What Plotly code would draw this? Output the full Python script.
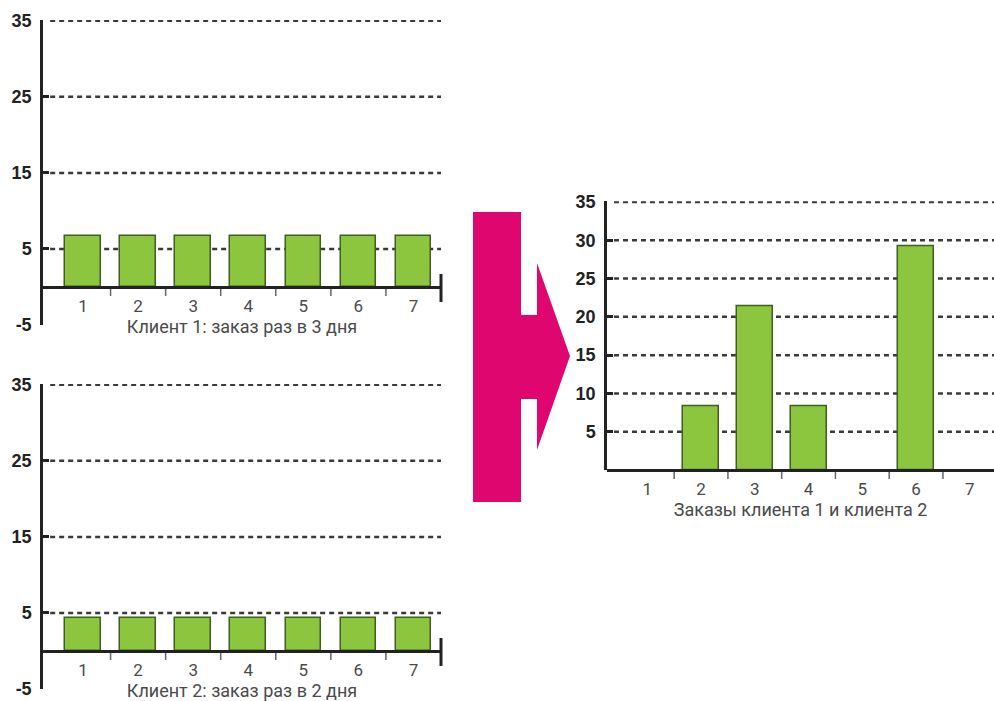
import plotly.graph_objects as go

# ---- data ----
days = [1, 2, 3, 4, 5, 6, 7]
client1 = [6.7, 6.7, 6.7, 6.7, 6.7, 6.7, 6.7]
client2 = [4.3, 4.3, 4.3, 4.3, 4.3, 4.3, 4.3]
combined = [0, 8.3, 21.4, 8.3, 0, 29.2, 0]
left_yticks = [-5, 5, 15, 25, 35]
left_ylabels = ["-5", "5", "15", "25", "35"]
left_grid = [5, 15, 25, 35]
right_yticks = [5, 10, 15, 20, 25, 30, 35]
right_ylabels = ["5", "10", "15", "20", "25", "30", "35"]
boundaries = [1.5, 2.5, 3.5, 4.5, 5.5, 6.5]
title1 = "Клиент 1: заказ раз в 3 дня"
title2 = "Клиент 2: заказ раз в 2 дня"
title3 = "Заказы клиента 1 и клиента 2"

W, H = 994, 701
GREEN = "#8cc63f"
EDGE = "#3f5e1f"
MAGENTA = "#e0066f"
DARK = "#222222"
GREY = "#4a4a4a"
FONT = "Roboto, Liberation Sans, sans-serif"
YFONT = "Liberation Sans, Roboto, sans-serif"

def px_x(p):
    return p / W

def px_y(p):
    return (H - p) / H

fig = go.Figure()

panels = [
    dict(vals=client1, width=0.645,
         xdom=[px_x(43), px_x(441)], ydom=[px_y(325), px_y(20)],
         xr=[0.273, 7.5], yr=[-5, 35.1], yt=left_yticks, yl=left_ylabels,
         grid=left_grid, title=title1, endbar=True),
    dict(vals=client2, width=0.645,
         xdom=[px_x(43), px_x(441)], ydom=[px_y(689), px_y(384)],
         xr=[0.273, 7.5], yr=[-5, 35.1], yt=left_yticks, yl=left_ylabels,
         grid=left_grid, title=title2, endbar=True),
    dict(vals=combined, width=0.67,
         xdom=[px_x(607), 1.0], ydom=[px_y(470), px_y(201.2)],
         xr=[0.25, 7.45], yr=[0, 35.1], yt=right_yticks, yl=right_ylabels,
         grid=right_yticks, title=title3, endbar=False),
]

shapes = []
for i, p in enumerate(panels):
    n = i + 1
    xa = "x" if n == 1 else f"x{n}"
    ya = "y" if n == 1 else f"y{n}"
    line_w = [1.5 if v > 0 else 0 for v in p["vals"]]
    fig.add_trace(go.Bar(x=days, y=p["vals"], xaxis=xa, yaxis=ya,
                         width=p["width"],
                         marker=dict(color=GREEN, line=dict(color=EDGE, width=line_w)),
                         showlegend=False, hoverinfo="skip"))
    yb, yt_ = p["ydom"]
    zero_frac = (0 - p["yr"][0]) / (p["yr"][1] - p["yr"][0])
    xpos = yb + zero_frac * (yt_ - yb)
    sx = "" if n == 1 else str(n)
    fig.layout["xaxis" + sx] = dict(
        domain=p["xdom"], range=p["xr"], anchor="free", position=xpos,
        tickmode="array", tickvals=days, ticktext=[str(d) for d in days],
        ticks="", showline=True, linecolor=DARK, linewidth=2.5,
        showgrid=False, zeroline=False, ticklabelstandoff=3,
        tickfont=dict(family=FONT, size=17, color=GREY),
        title=dict(text=p["title"], standoff=5,
                   font=dict(family=FONT, size=18, color=GREY)),
        automargin=False, fixedrange=True,
    )
    fig.layout["yaxis" + sx] = dict(
        domain=p["ydom"], range=p["yr"], anchor=xa,
        tickmode="array", tickvals=p["yt"], ticktext=p["yl"],
        ticks="inside", ticklen=6, tickwidth=2.5, tickcolor=DARK,
        showline=True, linecolor=DARK, linewidth=2.5,
        showgrid=False, zeroline=False,
        tickfont=dict(family=YFONT, size=18, color=DARK, weight="bold"),
        ticklabelstandoff=5,
        automargin=False, fixedrange=True,
    )
    for g in p["grid"]:
        shapes.append(dict(type="line", xref=xa + " domain", yref=ya,
                           x0=0.018, x1=1, y0=g, y1=g, layer="below",
                           line=dict(color="#3a3a3a", width=2.5, dash="5px,4px")))

    # axis decorations in paper space (positions follow the axis domain/range)
    def to_paper_x(v, p=p):
        d0, d1 = p["xdom"]
        r0, r1 = p["xr"]
        return d0 + (v - r0) / (r1 - r0) * (d1 - d0)

    for b in boundaries:
        xb = to_paper_x(b)
        shapes.append(dict(type="line", xref="paper", yref="paper",
                           x0=xb, x1=xb, y0=xpos - 2 / H, y1=xpos - 9 / H,
                           line=dict(color="#666666", width=1.5)))
    if p["endbar"]:
        xe = p["xdom"][1]
        shapes.append(dict(type="line", xref="paper", yref="paper",
                           x0=xe, x1=xe, y0=xpos - 15 / H, y1=xpos + 13 / H,
                           line=dict(color=DARK, width=3)))

# magenta arrow (decorative, pixel geometry)
pts = [(473, 212), (521, 212), (521, 315), (537, 315), (537, 263), (570, 356),
       (537, 450), (537, 399), (521, 399), (521, 502), (473, 502)]
path = "M " + " L ".join(f"{px_x(a):.5f},{px_y(b):.5f}" for a, b in pts) + " Z"
shapes.append(dict(type="path", xref="paper", yref="paper", path=path,
                   fillcolor=MAGENTA, line=dict(width=0)))

fig.update_layout(
    width=W, height=H, margin=dict(l=0, r=0, t=0, b=0),
    paper_bgcolor="white", plot_bgcolor="rgba(0,0,0,0)",
    shapes=shapes, bargap=0, showlegend=False,
)

fig.write_html("out.html", config={"displayModeBar": False})
